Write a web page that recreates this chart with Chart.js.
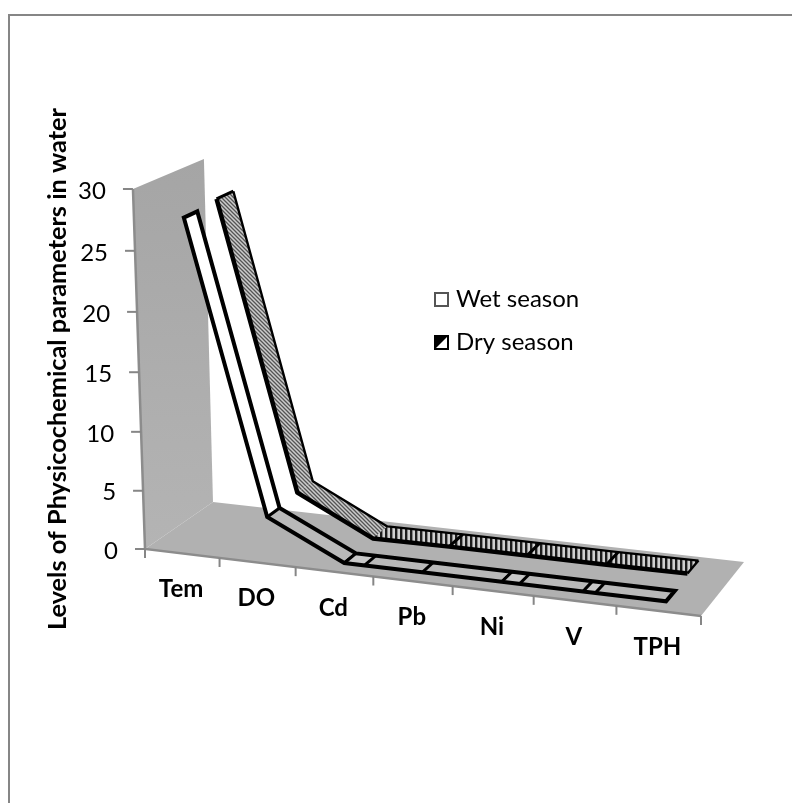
<!DOCTYPE html>
<html>
<head>
<meta charset="utf-8">
<title>Physicochemical parameters</title>
<script src="https://cdn.jsdelivr.net/npm/chart.js@4"></script>
<style>
  html, body { margin: 0; padding: 0; background: #fff; }
  canvas { display: block; }
</style>
</head>
<body>
<canvas id="levels" width="792" height="803"></canvas>
<script>
const categories = ['Tem', 'DO', 'Cd', 'Pb', 'Ni', 'V', 'TPH'];
const wetSeason = [27.5, 3.2, 0.05, 0.05, 0.05, 0.05, 0.05];
const drySeason = [27.8, 3.4, 0.15, 0.2, 0.2, 0.2, 0.25];
const valueTicks = [0, 5, 10, 15, 20, 25, 30];
// places between categories where the wet ribbon shows a second crease
const wetCreases = [2.26, 4.22, 5.15];

const FONT = 'Lato, "Open Sans", sans-serif';
const wetDepth = [0.16, 0.35];
const dryDepth = [0.63, 0.88];

// floor corners on the page: front left, front right, back right, back left
const floorQuad = [[145, 549], [701, 616], [744, 562], [213, 502]];

function solveView(q) {
  const dx1 = q[1][0] - q[2][0], dx2 = q[3][0] - q[2][0], sx = q[0][0] - q[1][0] + q[2][0] - q[3][0];
  const dy1 = q[1][1] - q[2][1], dy2 = q[3][1] - q[2][1], sy = q[0][1] - q[1][1] + q[2][1] - q[3][1];
  const den = dx1 * dy2 - dx2 * dy1;
  const g = (sx * dy2 - dx2 * sy) / den;
  const h = (dx1 * sy - sx * dy1) / den;
  return {
    a: q[1][0] - q[0][0] + g * q[1][0], b: q[3][0] - q[0][0] + h * q[3][0], c: -16.7, d: q[0][0],
    e: q[1][1] - q[0][1] + g * q[1][1], f: q[3][1] - q[0][1] + h * q[3][1], k: -366.6, l: q[0][1],
    g: g, h: h, i: -0.035
  };
}
const view = solveView(floorQuad);

// u along categories, v up the value axis, z into the page, all 0..1
function project(u, v, z) {
  const w = 1 + view.g * u + view.h * z + view.i * v;
  return [
    (view.a * u + view.b * z + view.c * v + view.d) / w,
    (view.e * u + view.f * z + view.k * v + view.l) / w
  ];
}

// scale values to the projected page position
function place(chart, index, value, z) {
  const area = chart.chartArea;
  const u = (chart.scales.x.getPixelForValue(index) - area.left) / area.width;
  const v = (area.bottom - chart.scales.y.getPixelForValue(value)) / area.height;
  return project(u, v, z);
}

function polygon(ctx, pts) {
  ctx.beginPath();
  pts.forEach((p, i) => i ? ctx.lineTo(p[0], p[1]) : ctx.moveTo(p[0], p[1]));
  ctx.closePath();
}

function polyline(ctx, pts) {
  ctx.beginPath();
  pts.forEach((p, i) => i ? ctx.lineTo(p[0], p[1]) : ctx.moveTo(p[0], p[1]));
  ctx.stroke();
}

function makePattern(ctx, size, draw) {
  const c = document.createElement('canvas');
  c.width = size;
  c.height = size;
  draw(c.getContext('2d'), size);
  return ctx.createPattern(c, 'repeat');
}

function diagonalHatch(ctx) {
  return makePattern(ctx, 4, (p, s) => {
    p.fillStyle = '#cccccc';
    p.fillRect(0, 0, s, s);
    p.strokeStyle = '#555555';
    p.lineWidth = 1.3;
    p.beginPath();
    p.moveTo(-1, -1); p.lineTo(s + 1, s + 1);
    p.moveTo(-1, s - 1); p.lineTo(1, s + 1);
    p.moveTo(s - 1, -1); p.lineTo(s + 1, 1);
    p.stroke();
  });
}

function stripeHatch(ctx) {
  return makePattern(ctx, 5, (p, s) => {
    p.fillStyle = '#d0d0d0';
    p.fillRect(0, 0, s, s);
    p.fillStyle = '#1c1c1c';
    p.fillRect(0, 0, 2.4, s);
  });
}

function drawFrame(ctx) {
  ctx.fillStyle = '#868686';
  ctx.fillRect(8, 14, 2, 789);
  ctx.fillRect(8, 14, 784, 2);
}

function drawWalls(chart, ctx) {
  const top = chart.scales.y.max / 30;
  const wall = [project(0, top, 0), project(0, top, 1), project(0, 0, 1), project(0, 0, 0)];
  const grad = ctx.createLinearGradient(0, wall[1][1], 0, wall[3][1]);
  grad.addColorStop(0, '#a5a5a5');
  grad.addColorStop(1, '#b4b4b4');
  polygon(ctx, wall);
  ctx.fillStyle = grad;
  ctx.fill();

  polygon(ctx, [project(0, 0, 0), project(1, 0, 0), project(1, 0, 1), project(0, 0, 1)]);
  ctx.fillStyle = '#b1b1b1';
  ctx.fill();

  ctx.strokeStyle = '#8c8c8c';
  ctx.lineWidth = 2.5;
  polyline(ctx, [project(0, top, 0), project(0, 0, 0), project(1, 0, 0)]);
}

function drawAxes(chart, ctx) {
  const yScale = chart.scales.y;
  const area = chart.chartArea;
  ctx.strokeStyle = '#868686';
  ctx.lineWidth = 2;
  ctx.fillStyle = '#000';

  ctx.font = '24px ' + FONT;
  ctx.textAlign = 'right';
  ctx.textBaseline = 'middle';
  yScale.ticks.forEach(t => {
    const p = project(0, (area.bottom - yScale.getPixelForValue(t.value)) / area.height, 0);
    polyline(ctx, [[p[0] - 10, p[1]], [p[0], p[1]]]);
    ctx.fillText(String(t.value), p[0] - 27, p[1] + 2);
  });

  for (let i = 0; i <= categories.length; i++) {
    const p = project(i / categories.length, 0, 0);
    polyline(ctx, [p, [p[0], p[1] + 9]]);
  }

  ctx.font = 'bold 24px ' + FONT;
  ctx.textAlign = 'center';
  categories.forEach((name, i) => {
    const p = place(chart, i, 0, 0);
    ctx.fillText(chart.scales.x.getLabelForValue(i), p[0] - 1, p[1] + 36);
  });

  ctx.save();
  ctx.translate(58, 369);
  ctx.rotate(-Math.PI / 2);
  ctx.font = 'bold 25.3px ' + FONT;
  ctx.fillText('Levels of Physicochemical parameters in water', 0, 0);
  ctx.restore();
}

function drawDry(chart, ctx, values) {
  const front = values.map((v, i) => place(chart, i, v, dryDepth[0]));
  const back = values.map((v, i) => place(chart, i, v, dryDepth[1]));
  const diag = diagonalHatch(ctx);
  const stripes = stripeHatch(ctx);
  const isFlat = i => Math.abs((front[i + 1][1] - front[i][1]) / (front[i + 1][0] - front[i][0])) < 0.3;

  for (let i = 0; i < values.length - 1; i++) {
    polygon(ctx, [front[i], front[i + 1], back[i + 1], back[i]]);
    ctx.fillStyle = isFlat(i) ? stripes : diag;
    ctx.fill();
  }

  ctx.strokeStyle = '#000';
  ctx.lineJoin = 'round';
  ctx.lineWidth = 3;
  for (let i = 1; i < values.length - 1; i++) {
    if (isFlat(i) && isFlat(i - 1)) polyline(ctx, [front[i], back[i]]);
  }
  polyline(ctx, [front[0], back[0]]);
  ctx.lineWidth = 2.4;
  polyline(ctx, back);
  polyline(ctx, [front[front.length - 1], back[back.length - 1]]);
  ctx.lineWidth = 4.5;
  polyline(ctx, front);
}

function drawWet(chart, ctx, values) {
  const front = values.map((v, i) => place(chart, i, v, wetDepth[0]));
  const back = values.map((v, i) => place(chart, i, v, wetDepth[1]));

  for (let i = 0; i < values.length - 1; i++) {
    polygon(ctx, [front[i], front[i + 1], back[i + 1], back[i]]);
    ctx.fillStyle = i === 0 ? '#fff' : '#b9b9b9';
    ctx.fill();
  }

  ctx.strokeStyle = '#000';
  ctx.lineJoin = 'miter';
  ctx.lineWidth = 3;
  for (let i = 1; i < values.length - 1; i++) {
    polyline(ctx, [front[i], back[i]]);
  }
  wetCreases.forEach(pos => {
    const i = Math.floor(pos);
    const value = values[i] + (values[i + 1] - values[i]) * (pos - i);
    const f = place(chart, pos, value, wetDepth[0]);
    const b = place(chart, pos, value, wetDepth[1]);
    polygon(ctx, [front[i], f, b, back[i]]);
    ctx.fillStyle = '#c8c8c8';
    ctx.fill();
    polyline(ctx, [front[i], back[i]]);
    polyline(ctx, [f, b]);
  });
  ctx.lineWidth = 4;
  polygon(ctx, front.concat(back.slice().reverse()));
  ctx.stroke();
}

function drawLegend(chart, ctx) {
  const sets = chart.data.datasets;
  ctx.font = '24px ' + FONT;
  ctx.textAlign = 'left';
  ctx.textBaseline = 'middle';
  ctx.fillStyle = '#000';
  ctx.fillText(sets[0].label, 456, 299);
  ctx.fillText(sets[1].label, 456, 342);

  ctx.strokeStyle = '#555';
  ctx.lineWidth = 2;
  ctx.fillStyle = '#fff';
  ctx.fillRect(435, 293, 13, 13);
  ctx.strokeRect(435, 293, 13, 13);

  ctx.fillStyle = '#fff';
  ctx.fillRect(435, 336, 13, 13);
  polygon(ctx, [[435, 336], [448, 336], [435, 349]]);
  ctx.fillStyle = '#000';
  ctx.fill();
  ctx.strokeStyle = '#000';
  ctx.lineWidth = 2;
  ctx.strokeRect(435, 336, 13, 13);
}

const ribbon3d = {
  id: 'ribbon3d',
  afterDatasetsDraw(chart) {
    const ctx = chart.ctx;
    ctx.save();
    drawFrame(ctx);
    drawWalls(chart, ctx);
    drawAxes(chart, ctx);
    drawDry(chart, ctx, chart.data.datasets[1].data);
    drawWet(chart, ctx, chart.data.datasets[0].data);
    drawLegend(chart, ctx);
    ctx.restore();
  }
};

const levelsChart = new Chart(
  document.getElementById('levels'),
  {
    type: 'line',
    data: {
      labels: categories,
      datasets: [
        { label: 'Wet season', data: wetSeason, showLine: false, pointRadius: 0 },
        { label: 'Dry season', data: drySeason, showLine: false, pointRadius: 0 }
      ]
    },
    options: {
      responsive: false,
      animation: false,
      devicePixelRatio: 1,
      layout: { padding: 0 },
      plugins: {
        legend: { display: false },
        tooltip: { enabled: false }
      },
      scales: {
        x: { display: false, offset: true },
        y: {
          display: false,
          min: valueTicks[0],
          max: valueTicks[valueTicks.length - 1],
          ticks: { stepSize: valueTicks[1] - valueTicks[0] }
        }
      }
    },
    plugins: [ribbon3d]
  }
);
</script>
</body>
</html>
